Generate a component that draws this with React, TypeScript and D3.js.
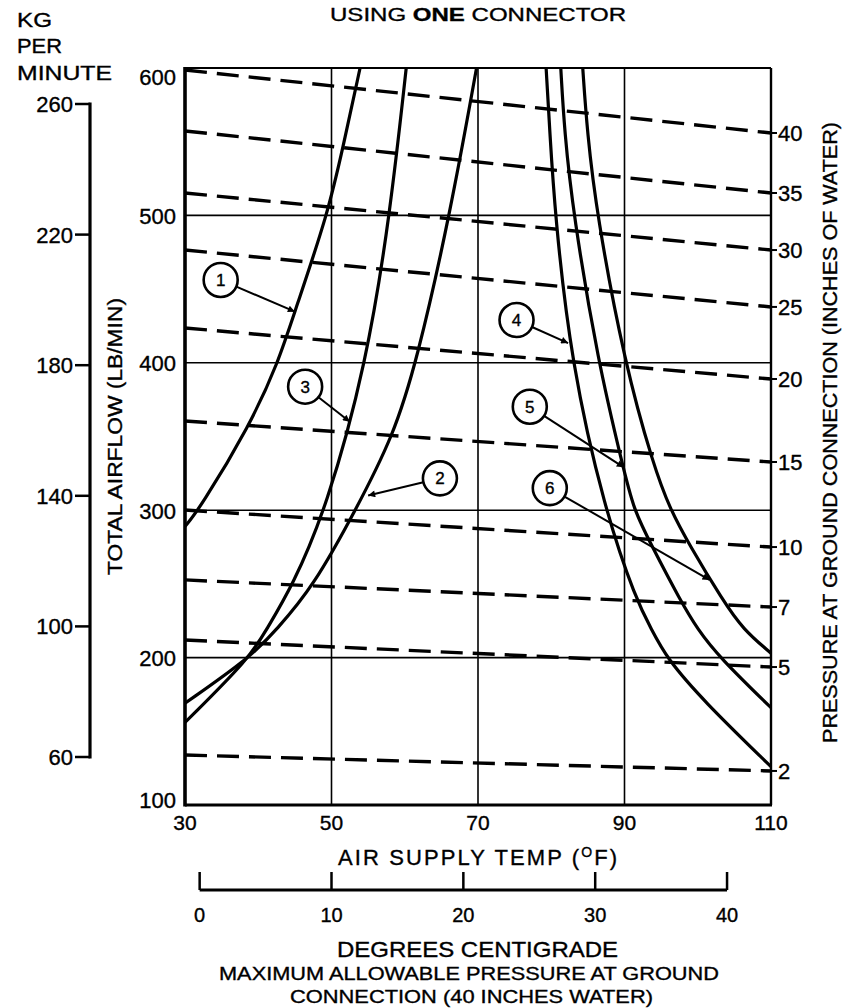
import React from 'react';
import * as d3 from 'd3';

// ---------- data ----------
const tempTicksF = [30, 50, 70, 90, 110];
const airflowTicks = [100, 200, 300, 400, 500, 600];
const airflowGrid = [200, 300, 400, 500];
const tempGridF = [50, 70, 90];
const kgTicks = [60, 100, 140, 180, 220, 260];
const celsiusTicks = [0, 10, 20, 30, 40];

// constant-pressure (dashed) lines: airflow (lb/min) at 30°F and at 110°F
const pressureLabels = ['40', '35', '30', '25', '20', '15', '10', '7', '5', '2'];
const pressureFlowAt30F = [598.6, 557.3, 515.2, 476.5, 423.6, 360.5, 300.1, 252.7, 211.9, 133.9];
const pressureFlowAt110F = [555.9, 515.2, 476.5, 437.9, 389.0, 332.7, 275.0, 234.3, 193.6, 123.1];

// solid curves: [temp °F, airflow lb/min]
const curve1: [number, number][] = [[30, 289], [32, 301], [38.9, 358], [42.7, 400], [45, 435], [49.5, 501], [51.6, 547], [53.9, 600]];
const curve2: [number, number][] = [[30, 169], [38.9, 200], [42.5, 219], [47.5, 248], [53.4, 301], [58.4, 350], [61.6, 400], [66.2, 501], [69.8, 600]];
const curve3: [number, number][] = [[30, 156], [38.9, 200], [41.1, 219], [44.6, 248], [49.3, 301], [54.8, 400], [58, 501], [60.2, 600]];
const curve4: [number, number][] = [[79.3, 600], [79.8, 557], [80.5, 501], [82.7, 400], [87.3, 300], [91.6, 239], [93.7, 219], [95.7, 200], [100.7, 171], [110, 126]];
const curve5: [number, number][] = [[81.3, 600], [81.8, 557], [83, 501], [86.4, 400], [89.8, 329.5], [91.2, 301], [93.7, 276], [97.6, 239], [100, 219], [103, 200], [110, 166]];
const curve6: [number, number][] = [[84.3, 600], [84.9, 557], [86.2, 501], [90, 400], [94.0, 329.5], [96.2, 301], [98.9, 276], [103.4, 239], [106.2, 219], [110, 203]];
const curves = [curve1, curve2, curve3, curve4, curve5, curve6];

// callouts
const calloutLabels = ['1', '2', '3', '4', '5', '6'];
const calloutCircleT = [34.87, 64.8, 46.4, 75.26, 77.07, 79.8];
const calloutCircleFlow = [456.2, 321.6, 383.8, 429, 370.2, 315];
const calloutTipT = [45.0, 55.0, 52.5, 82.3, 89.9, 101.6];
const calloutTipFlow = [434.7, 310, 360, 413.4, 329.1, 252.7];

const FONT = "'Liberation Sans', Arial, Helvetica, sans-serif";

export default function App() {
  const x = d3.scaleLinear().domain([30, 110]).range([185, 771]);
  const y = d3.scaleLinear().domain([100, 600]).range([805, 68]);
  const yKg = d3.scaleLinear().domain([60, 260]).range([757, 104]);
  const xC = (c: number) => x((c * 9) / 5 + 32);
  const line = d3
    .line<[number, number]>()
    .x((d) => x(d[0]))
    .y((d) => y(d[1]))
    .curve(d3.curveBasis);

  const x0 = x(30), x1 = x(110), yTop = y(600), yBot = y(100);
  const cAxisY = 890;
  const R = 17;
  const ts = { stroke: '#000', strokeWidth: 0.35 } as const;
  const SG = 'spacingAndGlyphs';

  return (
    <svg
      width={849}
      height={1008}
      style={{ position: 'absolute', left: 0, top: 0, background: '#fff' }}
      fontFamily={FONT}
    >
      <defs>
        <marker id="ah" viewBox="0 0 10 10" refX="10" refY="5" markerWidth="10" markerHeight="7" markerUnits="userSpaceOnUse" orient="auto">
          <path d="M0,0 L10,5 L0,10 z" fill="#000" />
        </marker>
        <clipPath id="plot">
          <rect x={x0} y={yTop} width={x1 - x0} height={yBot - yTop} />
        </clipPath>
      </defs>

      <g {...ts}>
        {/* title */}
        <text x={330} y={21} fontSize={19} textLength={296} lengthAdjust={SG}>
          USING <tspan fontWeight="bold">ONE</tspan> CONNECTOR
        </text>

        {/* KG per minute label */}
        <text x={17} y={27} fontSize={20} textLength={35} lengthAdjust={SG}>KG</text>
        <text x={17} y={53} fontSize={20} textLength={45} lengthAdjust={SG}>PER</text>
        <text x={17} y={80} fontSize={20} textLength={95} lengthAdjust={SG}>MINUTE</text>
      </g>

      <line x1={90} x2={90} y1={yKg(260) - 1.5} y2={yKg(60) + 1.5} stroke="#000" strokeWidth={3.2} />
      {kgTicks.map((k) => (
        <g key={'kg' + k}>
          <line x1={75} x2={90} y1={yKg(k)} y2={yKg(k)} stroke="#000" strokeWidth={2.5} />
          <text x={73} y={yKg(k) + 8} fontSize={22} textAnchor="end" {...ts}>{k}</text>
        </g>
      ))}

      {/* grid */}
      {airflowGrid.map((v) => (
        <line key={'hg' + v} x1={x0} x2={x1} y1={y(v)} y2={y(v)} stroke="#000" strokeWidth={1.6} />
      ))}
      {tempGridF.map((t) => (
        <line key={'vg' + t} x1={x(t)} x2={x(t)} y1={yTop} y2={yBot} stroke="#000" strokeWidth={1.6} />
      ))}

      {/* dashed constant pressure lines */}
      {pressureLabels.map((p, i) => (
        <g key={'p' + p}>
          <line
            x1={x0}
            x2={x1}
            y1={y(pressureFlowAt30F[i])}
            y2={y(pressureFlowAt110F[i])}
            stroke="#000"
            strokeWidth={3.4}
            strokeDasharray="22,10"
          />
          <line x1={x1} x2={x1 + 6} y1={y(pressureFlowAt110F[i])} y2={y(pressureFlowAt110F[i])} stroke="#000" strokeWidth={2} />
          <text x={x1 + 7} y={y(pressureFlowAt110F[i]) + 8} fontSize={22} {...ts}>{p}</text>
        </g>
      ))}

      {/* curves */}
      <g clipPath="url(#plot)">
        {curves.map((c, i) => (
          <path key={'c' + i} d={line(c) || ''} fill="none" stroke="#000" strokeWidth={3.2} />
        ))}
      </g>

      {/* frame */}
      <line x1={x0} x2={x1} y1={yTop} y2={yTop} stroke="#000" strokeWidth={2.2} />
      <line x1={x1} x2={x1} y1={yTop} y2={yBot} stroke="#000" strokeWidth={2.4} />
      <line x1={x0} x2={x0} y1={yTop - 1} y2={yBot + 1.5} stroke="#000" strokeWidth={3.6} />
      <line x1={x0} x2={x1 + 1} y1={yBot} y2={yBot} stroke="#000" strokeWidth={3.2} />

      <g {...ts}>
        {/* left airflow ticks */}
        {airflowTicks.map((v) => {
          const dy = v === 600 ? 17 : v === 100 ? 3 : 8.5;
          return (
            <text key={'al' + v} x={176} y={y(v) + dy} fontSize={22} textAnchor="end">{v}</text>
          );
        })}
        {/* bottom temp ticks */}
        {tempTicksF.map((t) => (
          <text key={'tl' + t} x={x(t)} y={830} fontSize={21} textAnchor="middle">{t}</text>
        ))}

        {/* axis titles */}
        <text
          transform={`translate(122,436.5) rotate(-90)`}
          fontSize={20}
          textAnchor="middle"
          textLength={277}
          lengthAdjust={SG}
        >
          TOTAL AIRFLOW (LB/MIN)
        </text>
        <text
          transform={`translate(837,432.5) rotate(-90)`}
          fontSize={20}
          textAnchor="middle"
          textLength={621}
          lengthAdjust={SG}
        >
          PRESSURE AT GROUND CONNECTION (INCHES OF WATER)
        </text>

        <text x={338} y={865} fontSize={22} letterSpacing={2.1}>
          AIR SUPPLY TEMP (<tspan fontSize={14} dy={-8}>O</tspan><tspan dy={8}>F)</tspan>
        </text>
      </g>

      {/* celsius axis */}
      <line x1={xC(0)} x2={xC(40)} y1={cAxisY} y2={cAxisY} stroke="#000" strokeWidth={3} />
      {celsiusTicks.map((c) => (
        <g key={'c' + c}>
          <line x1={xC(c)} x2={xC(c)} y1={cAxisY - 18} y2={cAxisY} stroke="#000" strokeWidth={2.5} />
          <text x={xC(c)} y={922} fontSize={20} textAnchor="middle" {...ts}>{c}</text>
        </g>
      ))}
      <g {...ts}>
        <text x={337} y={957} fontSize={22} textLength={281} lengthAdjust={SG}>DEGREES CENTIGRADE</text>
        <text x={219} y={980} fontSize={19} textLength={500} lengthAdjust={SG}>MAXIMUM ALLOWABLE PRESSURE AT GROUND</text>
        <text x={290} y={1003} fontSize={19} textLength={363} lengthAdjust={SG}>CONNECTION (40 INCHES WATER)</text>
      </g>

      {/* callouts */}
      {calloutLabels.map((lab, i) => {
        const cx = x(calloutCircleT[i]);
        const cy = y(calloutCircleFlow[i]);
        const tx = x(calloutTipT[i]);
        const ty = y(calloutTipFlow[i]);
        const dx = tx - cx, dy = ty - cy;
        const len = Math.sqrt(dx * dx + dy * dy);
        const sx = cx + (dx / len) * R;
        const sy = cy + (dy / len) * R;
        return (
          <g key={'co' + lab}>
            <circle cx={cx} cy={cy} r={R} fill="#fff" stroke="#000" strokeWidth={2.6} />
            <text x={cx} y={cy + 6} fontSize={17} textAnchor="middle" {...ts}>{lab}</text>
            <line x1={sx} y1={sy} x2={tx} y2={ty} stroke="#000" strokeWidth={2} markerEnd="url(#ah)" />
          </g>
        );
      })}
    </svg>
  );
}
